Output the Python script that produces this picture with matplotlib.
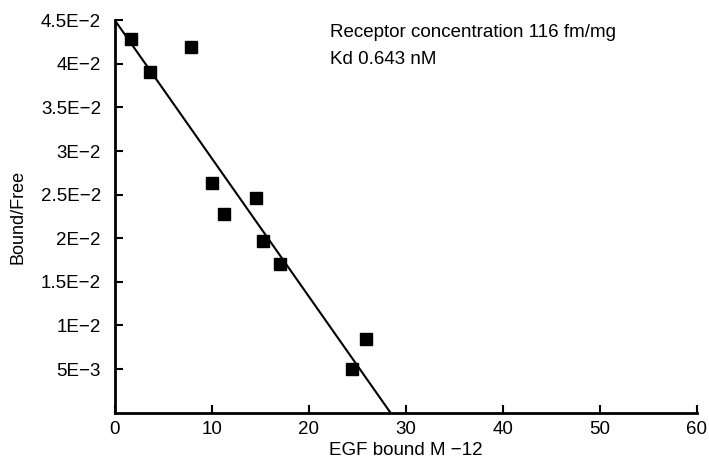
import matplotlib
matplotlib.use("Agg")
import matplotlib.pyplot as plt

plt.rcParams['font.family'] = ['Liberation Sans', 'DejaVu Sans']

# EGF bound (M -12) and Bound/Free
egf_bound = [1.7, 3.6, 7.9, 10.0, 11.3, 14.5, 15.3, 17.0, 24.4, 25.9]
bound_free = [0.0428, 0.0391, 0.0419, 0.0263, 0.0228, 0.0246, 0.0197, 0.0170, 0.0050, 0.0084]

# fitted Scatchard line end points
fit_x = [0.0, 28.4]
fit_y = [0.045, 0.0]

x_ticks = [0, 10, 20, 30, 40, 50, 60]
y_ticks = [0.005, 0.010, 0.015, 0.020, 0.025, 0.030, 0.035, 0.040, 0.045]
y_labels = ['5E\u22123', '1E\u22122', '1.5E\u22122', '2E\u22122', '2.5E\u22122',
            '3E\u22122', '3.5E\u22122', '4E\u22122', '4.5E\u22122']

fig = plt.figure(figsize=(7.09, 4.61), dpi=100)
ax = fig.add_axes([0.162, 0.105, 0.821, 0.851])

ax.plot(fit_x, fit_y, color='black', lw=1.5, solid_capstyle='butt')
ax.plot(egf_bound, bound_free, 's', color='black', markersize=9, clip_on=False)

ax.set_xlim(0, 60)
ax.set_ylim(0, 0.045)
ax.set_xticks(x_ticks)
ax.set_xticklabels([str(t) for t in x_ticks])
ax.set_yticks(y_ticks)
ax.set_yticklabels(y_labels)

for s in ['top', 'right']:
    ax.spines[s].set_visible(False)
for s in ['left', 'bottom']:
    ax.spines[s].set_linewidth(2)
ax.tick_params(direction='in', length=6, width=1.5, labelsize=13.5)
ax.tick_params(axis='y', pad=10)
ax.tick_params(axis='x', pad=6)

ax.set_xlabel('EGF bound M \u221212', fontsize=13.5, labelpad=3)
ax.set_ylabel('Bound/Free', fontsize=13, labelpad=10)

ax.text(0.37, 0.970, 'Receptor concentration 116 fm/mg', transform=ax.transAxes,
        fontsize=13.5, va='center')
ax.text(0.37, 0.899, 'Kd 0.643 nM', transform=ax.transAxes,
        fontsize=13.5, va='center')

fig.savefig('out.png', dpi=100)
